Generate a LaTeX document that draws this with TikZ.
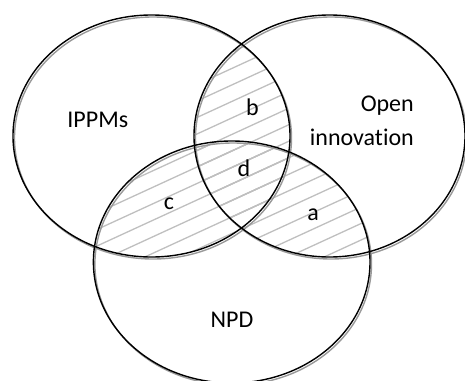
\documentclass[tikz,border=0pt]{standalone}
\usepackage{fontspec}
\setmainfont{Carlito}[Ligatures=CommonOff]
\begin{document}
\begin{tikzpicture}[x=1pt,y=-1pt,
  setring/.style={draw=black,line width=1.4pt},
  setshadow/.style={draw=black!40,line width=1.4pt},
  hatchline/.style={draw=black!25,line width=1.3pt},
  setlabel/.style={font=\fontsize{24}{29}\selectfont,inner sep=0pt,anchor=base}]
\useasboundingbox (0,0) rectangle (465,380);
\begin{scope}
\clip (0,0) rectangle (465,380);
% hatching of the pairwise overlaps
\def\hatch{\foreach \k in {-12,...,14}{\draw[hatchline] (0,290.6+16.5*\k) -- (465,290.6+16.5*\k-0.46*465);}}
\begin{scope}
  \clip (151.5,136) ellipse [x radius=138.5,y radius=121];
  \clip (329.5,136) ellipse [x radius=135.5,y radius=121];
  \hatch
\end{scope}
\begin{scope}
  \clip (151.5,136) ellipse [x radius=138.5,y radius=121];
  \clip (231.7,262) ellipse [x radius=138.3,y radius=121];
  \hatch
\end{scope}
\begin{scope}
  \clip (329.5,136) ellipse [x radius=135.5,y radius=121];
  \clip (231.7,262) ellipse [x radius=138.3,y radius=121];
  \hatch
\end{scope}
% grey offset outlines
\begin{scope}[shift={(1.5,2)}]
  \draw[setshadow] (151.5,136) ellipse [x radius=138.5,y radius=121];
  \draw[setshadow] (329.5,136) ellipse [x radius=135.5,y radius=121];
  \draw[setshadow] (231.7,262) ellipse [x radius=138.3,y radius=121];
\end{scope}
% set outlines
\draw[setring] (151.5,136) ellipse [x radius=138.5,y radius=121];
\draw[setring] (329.5,136) ellipse [x radius=135.5,y radius=121];
\draw[setring] (231.7,262) ellipse [x radius=138.3,y radius=121];
\end{scope}
% labels
\node[setlabel] (ippm) at (97.8,127.7) {IPPMs};
\node[setlabel,anchor=base east] (open) at (414,111.7) {Open};
\node[setlabel,anchor=base east] (innov) at (414,145) {innovation};
\node[setlabel] (npd) at (232,327.7) {NPD};
\node[setlabel] (la) at (313,220) {a};
\node[setlabel] (lb) at (252.5,115) {b};
\node[setlabel] (lc) at (169,209) {c};
\node[setlabel] (ld) at (244,176.7) {d};
\end{tikzpicture}
\end{document}
